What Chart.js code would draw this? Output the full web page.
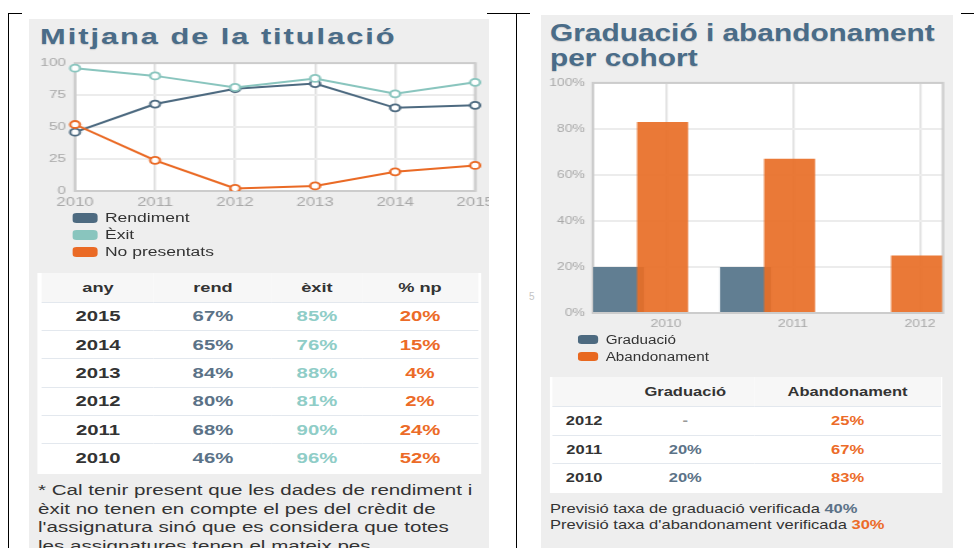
<!DOCTYPE html>
<html lang="ca">
<head>
<meta charset="utf-8">
<title>Mitjana de la titulació · Graduació i abandonament per cohort</title>
<script src="https://cdn.jsdelivr.net/npm/chart.js@4.4.1/dist/chart.umd.min.js"></script>
<style>
  html, body { margin: 0; padding: 0; background: #fff; }
  body { position: relative; width: 974px; height: 548px; overflow: hidden;
         font-family: "Liberation Sans", Arial, Helvetica, sans-serif; color: #333; }
  .rule { position: absolute; background: #000; }
  .stray { position: absolute; left: 529px; top: 291px; font-size: 10px; color: #c4c4c4; }
  .panel { position: absolute; background: #eee; overflow: hidden; transform-origin: 0 0; }
  #left  { left: 29px;  top: 19px; width: 328px;   height: 529px; transform: scaleX(1.4); }
  #right { left: 541px; top: 15px; width: 324.4px; height: 533px; transform: scaleX(1.27); }
  .title { position: absolute; margin: 0; font-weight: bold; color: #4a6c88;
           text-shadow: 0 1px 1px rgba(0,0,0,0.15); white-space: nowrap; }
  #left .title  { left: 7.9px; top: 7.4px; font-size: 22px; line-height: 22px; letter-spacing: 1.4px; }
  #right .title { left: 7.1px; top: 6px; font-size: 23.5px; line-height: 25px; }
  .chart { position: absolute; left: 0; }
  #left .chart  { top: 31px; width: 336px; height: 163px; }
  #right .chart { top: 55px; width: 324px; height: 265px; }
  .legend { position: absolute; color: #333; }
  .legend div { height: 17px; display: flex; align-items: center; white-space: nowrap; }
  .legend .sw { display: inline-block; border-radius: 3px; }
  #left .legend  { left: 30.7px; top: 190.5px; font-size: 12.5px; }
  #left .legend .sw  { width: 17.9px; height: 10px; margin-right: 5.7px; }
  #right .legend { left: 29.1px; top: 316.2px; font-size: 12px; }
  #right .legend .sw { width: 15.8px; height: 9.5px; margin-right: 6px; }
  .box { position: absolute; background: #fff; box-sizing: border-box; }
  .box table { border-collapse: collapse; width: 100%; table-layout: fixed; font-weight: bold; }
  .box th, .box td { text-align: center; padding: 0; border-bottom: 1px solid #e3e8ee; }
  .box tbody tr:last-child td { border-bottom: none; }
  .box thead th { background: #f7f7f7; color: #333; }
  .box .yr { color: #333; }
  #leftBox  { left: 6.4px; top: 254px; width: 317.1px; height: 201px; padding: 0 2.9px; }
  #leftBox th { height: 28.5px; font-size: 13px; }
  #leftBox td { height: 27.4px; font-size: 14.5px; }
  #rightBox { left: 7.1px; top: 362px; width: 309.4px; height: 115.7px; padding: 0 1.5px; }
  #rightBox th { height: 29px; font-size: 13px; }
  #rightBox td { height: 27.5px; font-size: 13px; }
  .note { position: absolute; margin: 0; white-space: nowrap; color: #333; }
  #left .note  { left: 6.4px; top: 462.4px; font-size: 14.7px; line-height: 18.5px; }
  #right .note { left: 7.1px; top: 485.6px; font-size: 13px; line-height: 16px; }
</style>
</head>
<body>
<div class="rule" style="left:8px;top:13px;width:1px;height:535px"></div>
<div class="rule" style="left:8px;top:13px;width:14px;height:1px"></div>
<div class="rule" style="left:487px;top:13px;width:43px;height:1px"></div>
<div class="rule" style="left:516px;top:13px;width:1px;height:535px"></div>
<div class="rule" style="left:961px;top:13px;width:13px;height:1px"></div>
<div class="stray">5</div>

<div class="panel" id="left">
  <h2 class="title">Mitjana de la titulació</h2>
  <div class="chart"><canvas id="lineChart"></canvas></div>
  <div class="legend" id="lineLegend"></div>
  <div class="box" id="leftBox">
    <table id="leftTable">
      <colgroup><col style="width:80px"><col style="width:84.2px"><col style="width:64.4px"><col style="width:82.8px"></colgroup>
      <thead><tr></tr></thead>
      <tbody></tbody>
    </table>
  </div>
  <p class="note">* Cal tenir present que les dades de rendiment i<br>èxit no tenen en compte el pes del crèdit de<br>l'assignatura sinó que es considera que totes<br>les assignatures tenen el mateix pes.</p>
</div>

<div class="panel" id="right">
  <h2 class="title">Graduació i abandonament<br>per cohort</h2>
  <div class="chart"><canvas id="barChart"></canvas></div>
  <div class="legend" id="barLegend"></div>
  <div class="box" id="rightBox">
    <table id="rightTable">
      <colgroup><col style="width:50.8px"><col style="width:108.4px"><col style="width:147.2px"></colgroup>
      <thead><tr></tr></thead>
      <tbody></tbody>
    </table>
  </div>
  <p class="note" id="rightNote"></p>
</div>

<script>
// mitjana de la titulació
const years = ['2010', '2011', '2012', '2013', '2014', '2015']
const rendiment = [46, 68, 80, 84, 65, 67]
const exit = [96, 90, 81, 88, 76, 85]
const noPresentats = [52, 24, 2, 4, 15, 20]
const lineTicks = [0, 25, 50, 75, 100]
const lineLabels = ['Rendiment', 'Èxit', 'No presentats']
const leftHeader = ['any', 'rend', 'èxit', '% np']

// graduació i abandonament per cohort
const cohorts = [2010, 2011, 2012]
const graduacio = [20, 20, null]
const abandonament = [83, 67, 25]
const barTicks = [0, 20, 40, 60, 80, 100]
const barLabels = ['Graduació', 'Abandonament']
const rightHeader = ['', 'Graduació', 'Abandonament']
const previsioGraduacio = 40
const previsioAbandonament = 30

const C = {
  rend: '#4d6a80',
  exit: '#89c5be',
  np: '#ea6a25',
  rendText: '#5b7287',
  exitText: '#8fcdc7',
  npText: '#ec6b28',
  grad: '#4d6a80',
  gradBar: 'rgba(92,122,142,0.97)',
  aband: '#e8681f',
  abandBar: 'rgba(232,110,38,0.92)',
  tick: '#a8a8a8',
  frame: '#cccccc'
}
const FONT = '"Liberation Sans", Arial, sans-serif'

// white plot area and a grey frame round it, like the old chart style
const plotFrame = {
  id: 'plotFrame',
  beforeDraw(chart) {
    const { ctx, chartArea: a } = chart
    ctx.save()
    ctx.fillStyle = '#fff'
    ctx.fillRect(a.left, a.top, a.width, a.height)
    ctx.restore()
  },
  beforeDatasetsDraw(chart) {
    const { ctx, chartArea: a } = chart
    ctx.save()
    ctx.strokeStyle = C.frame
    ctx.lineWidth = 2
    ctx.strokeRect(a.left, a.top, a.width, a.height)
    ctx.restore()
  }
}

function fillLegend(id, labels, colors) {
  const el = document.getElementById(id)
  labels.forEach((label, i) => {
    const row = document.createElement('div')
    row.innerHTML = `<span class="sw" style="background:${colors[i]}"></span>${label}`
    el.appendChild(row)
  })
}

function fillHeader(table, cells) {
  const tr = document.querySelector(`#${table} thead tr`)
  tr.innerHTML = cells.map(c => `<th>${c}</th>`).join('')
}

// left table, newest year first
fillHeader('leftTable', leftHeader)
const leftBody = document.querySelector('#leftTable tbody')
for (let i = years.length - 1; i >= 0; i--) {
  const tr = document.createElement('tr')
  tr.innerHTML =
    `<td class="yr">${years[i]}</td>` +
    `<td style="color:${C.rendText}">${rendiment[i]}%</td>` +
    `<td style="color:${C.exitText}">${exit[i]}%</td>` +
    `<td style="color:${C.npText}">${noPresentats[i]}%</td>`
  leftBody.appendChild(tr)
}

// right table, newest cohort first
fillHeader('rightTable', rightHeader)
const rightBody = document.querySelector('#rightTable tbody')
for (let i = cohorts.length - 1; i >= 0; i--) {
  const tr = document.createElement('tr')
  const g = graduacio[i] == null ? '<span style="color:#999">-</span>' : graduacio[i] + '%'
  tr.innerHTML =
    `<td class="yr">${cohorts[i]}</td>` +
    `<td style="color:${C.rendText}">${g}</td>` +
    `<td style="color:${C.npText}">${abandonament[i]}%</td>`
  rightBody.appendChild(tr)
}

document.getElementById('rightNote').innerHTML =
  `Previsió taxa de graduació verificada <b style="color:${C.rendText}">${previsioGraduacio}%</b><br>` +
  `Previsió taxa d'abandonament verificada <b style="color:${C.npText}">${previsioAbandonament}%</b>`

fillLegend('lineLegend', lineLabels, [C.rend, C.exit, C.np])
fillLegend('barLegend', barLabels, [C.grad, C.aband])

Chart.defaults.font.family = FONT

// line chart
const lineValues = [rendiment, exit, noPresentats]
const lineColors = [C.rend, C.exit, C.np]

new Chart(document.getElementById('lineChart'), {
  type: 'line',
  data: {
    labels: years,
    datasets: lineLabels.map((label, i) => ({
      label,
      data: lineValues[i],
      order: lineLabels.length - 1 - i,
      borderColor: lineColors[i],
      backgroundColor: '#fff',
      borderWidth: 2,
      pointRadius: 3.5,
      pointBorderWidth: 1.8,
      pointBackgroundColor: '#fff',
      pointBorderColor: lineColors[i],
      tension: 0
    }))
  },
  options: {
    responsive: true,
    maintainAspectRatio: false,
    animation: false,
    layout: { padding: { top: 10, right: 16, left: 0, bottom: 0 } },
    scales: {
      x: {
        grid: { color: '#dedede', lineWidth: 1.5, drawTicks: false },
        border: { display: false },
        ticks: { color: C.tick, font: { size: 12 }, padding: 4, autoSkip: false, maxRotation: 0 },
        afterFit: (s) => { s.height = 22 }
      },
      y: {
        min: 0,
        max: 100,
        afterBuildTicks: (s) => { s.ticks = lineTicks.map(v => ({ value: v })) },
        grid: { color: '#ececec', lineWidth: 2, drawTicks: false },
        border: { display: false },
        ticks: { color: C.tick, font: { size: 11 }, padding: 6.5 },
        afterFit: (s) => { s.width = 32.9 }
      }
    },
    plugins: { legend: { display: false }, tooltip: { enabled: false } }
  },
  plugins: [plotFrame]
})

// bar chart: the labels sit a little right of the bar pairs, so the
// two series and the tick labels each get their own year axis
const yearSpan = 2.756
const labelMin = 2009.425
const gradMin = labelMin + 0.374
const abandMin = labelMin + 0.027
const cohortTicks = (s) => { s.ticks = cohorts.map(v => ({ value: v })) }
const hiddenYearAxis = (min) => ({
  type: 'linear', display: false, position: 'bottom', bounds: 'data',
  offset: false, grid: { offset: false },
  min, max: min + yearSpan, afterBuildTicks: cohortTicks
})

new Chart(document.getElementById('barChart'), {
  type: 'bar',
  data: {
    datasets: [
      {
        label: barLabels[0],
        data: cohorts.map((c, i) => ({ x: c, y: graduacio[i] })),
        xAxisID: 'xg',
        order: 1,
        backgroundColor: C.gradBar
      },
      {
        label: barLabels[1],
        data: cohorts.map((c, i) => ({ x: c, y: abandonament[i] })),
        xAxisID: 'xa',
        order: 0,
        backgroundColor: C.abandBar
      }
    ]
  },
  options: {
    responsive: true,
    maintainAspectRatio: false,
    animation: false,
    grouped: false,
    categoryPercentage: 1,
    barPercentage: 0.402,
    layout: { padding: { top: 10, right: 7.5, left: 0, bottom: 0 } },
    scales: {
      xg: hiddenYearAxis(gradMin),
      xa: hiddenYearAxis(abandMin),
      x: {
        type: 'linear',
        position: 'bottom',
        bounds: 'data',
        offset: false,
        min: labelMin,
        max: labelMin + yearSpan,
        afterBuildTicks: cohortTicks,
        grid: { color: '#dedede', lineWidth: 1.5, drawTicks: false, offset: false },
        border: { display: false },
        ticks: { color: C.tick, font: { size: 11 }, padding: 4, callback: (v) => String(v) },
        afterFit: (s) => { s.height = 22 }
      },
      y: {
        min: 0,
        max: 100,
        afterBuildTicks: (s) => { s.ticks = barTicks.map(v => ({ value: v })) },
        grid: { color: '#ececec', lineWidth: 2, drawTicks: false },
        border: { display: false },
        ticks: { color: C.tick, font: { size: 11 }, padding: 6.3, callback: (v) => v + '%' },
        afterFit: (s) => { s.width = 40.9 }
      }
    },
    plugins: { legend: { display: false }, tooltip: { enabled: false } }
  },
  plugins: [plotFrame]
})
</script>
</body>
</html>
